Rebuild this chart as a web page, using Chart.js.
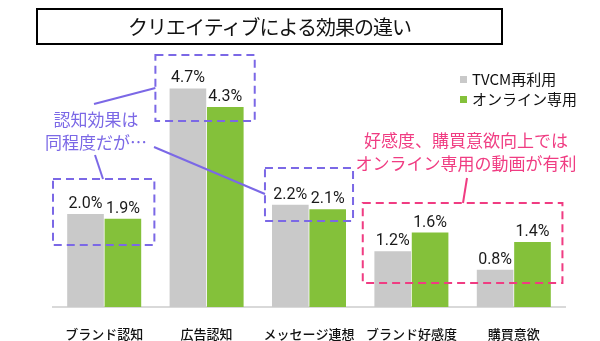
<!DOCTYPE html>
<html>
<head>
<meta charset="utf-8">
<script src="https://cdn.jsdelivr.net/npm/chart.js@4"></script>
<style>
  body { margin: 0; background: #fff; }
  #wrap { position: relative; width: 600px; height: 341px; overflow: hidden; font-family: "Noto Sans CJK JP", "Noto Sans", sans-serif; }
  #title {
    position: absolute; left: 36px; top: 8px; width: 467px; height: 37px;
    box-sizing: border-box; border: 2px solid #000;
    text-align: center; font-size: 20px; line-height: 33px; color: #111; letter-spacing: -1px;
  }
  .leg { position: absolute; left: 460px; font-size: 15px; color: #111; line-height: 18px; }
  .leg span { display: inline-block; width: 7px; height: 7px; margin-right: 5px; vertical-align: 2px; }
  .note { position: absolute; text-align: center; font-size: 17px; line-height: 23px; white-space: nowrap; }
  canvas { position: absolute; left: 0; top: 0; }
</style>
</head>
<body>
<div id="wrap">
  <canvas id="grafico" width="600" height="341"></canvas>
  <div id="title">クリエイティブによる効果の違い</div>
  <div id="legend"></div>
  <div class="note" style="left:41px; top:107px; width:110px; color:#7b68e6;">認知効果は<br>同程度だが…</div>
  <div class="note" style="left:346px; top:128px; width:240px; color:#f03c82;">好感度、購買意欲向上では<br>オンライン専用の動画が有利</div>
</div>
<script>
const categories = ['ブランド認知', '広告認知', 'メッセージ連想', 'ブランド好感度', '購買意欲'];
const seriesNames = ['TVCM再利用', 'オンライン専用'];
const tvcmValues = [2.0, 4.7, 2.2, 1.2, 0.8];
const onlineValues = [1.9, 4.3, 2.1, 1.6, 1.4];
const colores = ['#c9c9c9', '#84c13a'];
const yMin = 0;
const yMax = 5;

const PURPLE = '#7b68e6';
const PINK = '#f03c82';

// leyenda en html
const legend = document.getElementById('legend');
seriesNames.forEach((name, i) => {
    const d = document.createElement('div');
    d.className = 'leg';
    d.style.top = (70 + i * 20) + 'px';
    d.innerHTML = `<span style="background:${colores[i]}"></span>${name}`;
    legend.appendChild(d);
});

const etiquetas = {
    id: 'etiquetas',
    afterDatasetsDraw(chart) {
        const ctx = chart.ctx;
        ctx.save();
        ctx.font = '16px Roboto, "Noto Sans", sans-serif';
        ctx.fillStyle = '#1a1a1a';
        ctx.textAlign = 'center';
        ctx.textBaseline = 'alphabetic';
        chart.data.datasets.forEach((ds, di) => {
            chart.getDatasetMeta(di).data.forEach((bar, i) => {
                ctx.fillText(ds.data[i].toFixed(1) + '%', bar.x, bar.y - 6);
            });
        });
        ctx.restore();
    }
};

function cajaPunteada(ctx, x1, y1, x2, y2, color) {
    ctx.strokeStyle = color;
    ctx.setLineDash([8, 5]);
    ctx.lineWidth = 2;
    ctx.strokeRect(x1, y1, x2 - x1, y2 - y1);
}

function linea(ctx, x1, y1, x2, y2, color) {
    ctx.strokeStyle = color;
    ctx.setLineDash([]);
    ctx.lineWidth = 2;
    ctx.beginPath();
    ctx.moveTo(x1, y1);
    ctx.lineTo(x2, y2);
    ctx.stroke();
}

const anotaciones = {
    id: 'anotaciones',
    afterDraw(chart) {
        const ctx = chart.ctx;
        const xs = chart.scales.x;
        const cw = xs.getPixelForValue(1) - xs.getPixelForValue(0);
        const cx = i => xs.getPixelForValue(i);
        ctx.save();
        // cajas
        const A = [cx(1) - 0.5 * cw, 55, cx(1) + 0.47 * cw, 121];
        const B = [cx(0) - 0.5 * cw, 179, cx(0) + 0.49 * cw, 245];
        const C = [cx(2) - 0.43 * cw, 168, cx(2) + 0.43 * cw, 221];
        const P = [cx(3) - 0.475 * cw, 203, cx(4) + 0.475 * cw, 283];
        cajaPunteada(ctx, ...A, PURPLE);
        cajaPunteada(ctx, ...B, PURPLE);
        cajaPunteada(ctx, ...C, PURPLE);
        cajaPunteada(ctx, ...P, PINK);
        // lineas
        linea(ctx, 94, 104, A[0], 88, PURPLE);
        linea(ctx, 95, 155, 103, B[1], PURPLE);
        linea(ctx, 154, 147, C[0], 194, PURPLE);
        linea(ctx, 467, 178, 463, P[1], PINK);
        ctx.restore();
    }
};

new Chart(document.getElementById('grafico'), {
    type: 'bar',
    data: {
        labels: categories,
        datasets: [
            { label: seriesNames[0], data: tvcmValues, backgroundColor: colores[0] },
            { label: seriesNames[1], data: onlineValues, backgroundColor: colores[1] }
        ]
    },
    options: {
        responsive: false,
        animation: false,
        devicePixelRatio: 1,
        categoryPercentage: 0.73,
        barPercentage: 0.98,
        layout: { padding: { left: 53, right: 35, top: 74.5, bottom: 0 } },
        plugins: { legend: { display: false }, tooltip: { enabled: false } },
        scales: {
            x: {
                grid: { display: false },
                border: { color: '#d9d9d9', width: 2 },
                ticks: {
                    color: '#111', padding: 11, maxRotation: 0, minRotation: 0,
                    font: { size: 13, weight: '500', family: '"Noto Sans CJK JP", sans-serif' }
                },
                afterFit: s => { s.height = 34; }
            },
            y: { display: false, min: yMin, max: yMax }
        }
    },
    plugins: [etiquetas, anotaciones]
});
</script>
</body>
</html>
